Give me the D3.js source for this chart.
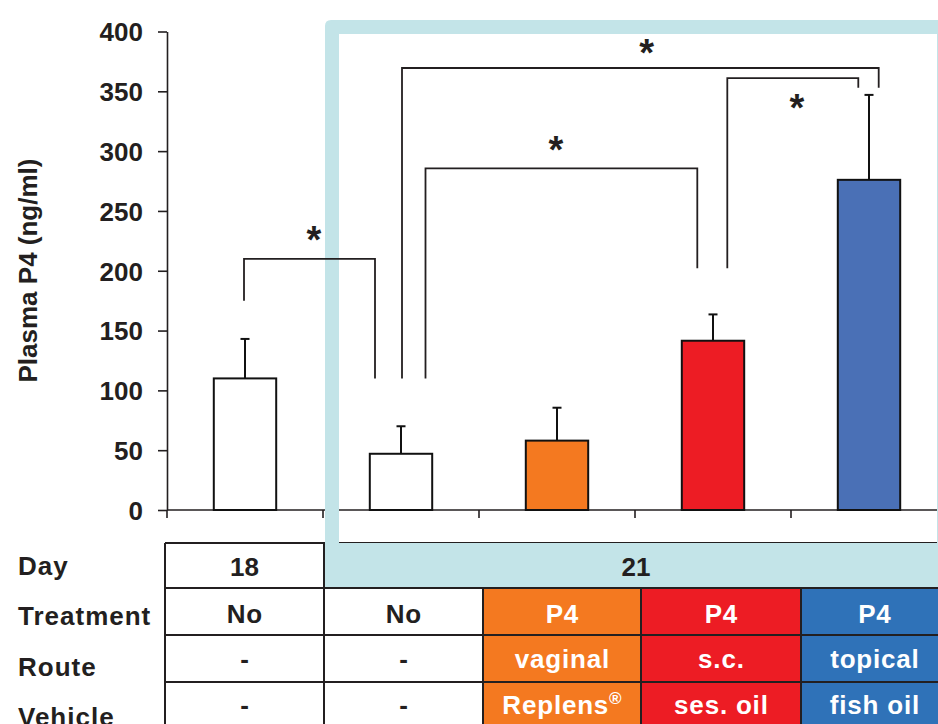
<!DOCTYPE html>
<html><head><meta charset="utf-8">
<script src="https://cdn.jsdelivr.net/npm/d3@7"></script>
<style>
html,body{margin:0;padding:0;background:#fff;}
svg{display:block;font-family:"Liberation Sans",Arial,Helvetica,sans-serif;}
</style></head>
<body>
<svg id="chart" width="938" height="724"></svg>
<script>
// ---------- data ----------
const groups     = ["g1","g2","g3","g4","g5"];
const days       = ["18","21","21","21","21"];
const treatments = ["No","No","P4","P4","P4"];
const routes     = ["-","-","vaginal","s.c.","topical"];
const vehicles   = ["-","-","Replens","ses. oil","fish oil"];
const means      = [110, 47, 58, 141.5, 276];
const errors     = [33, 23, 27.5, 22, 71];
const yTicks     = [0,50,100,150,200,250,300,350,400];
const rowLabels  = ["Day","Treatment","Route","Vehicle"];
const yLabel     = "Plasma P4 (ng/ml)";
// significance brackets: groups compared, bracket height and leg end values (ng/ml)
const brackets = [
  {from:0, to:1, top:210,   left:175, right:110},
  {from:1, to:3, top:285.5, left:110, right:202},
  {from:1, to:4, top:369.5, left:110, right:353},
  {from:3, to:4, top:361,   left:202, right:353}
];

// ---------- styles / layout ----------
const barFill   = ["#ffffff","#ffffff","#f47920","#ed1c24","#4a70b6"];
const cellFill  = [null,null,"#f47920","#ed1c24","#2f72b8"];
const cellText  = ["#231f20","#231f20","#ffffff","#ffffff","#ffffff"];
const ink = "#231f20";
const frameColor = "#c3e4e8";
const legDx  = [[-1,-26],[24.5,-15.7],[1,9.7],[14.3,-10.7]];
const starDx = [4.5,-5.4,6.2,4.2];
const starDy = [-27,-26.4,-22.5,22.3];

const svg = d3.select("#chart");
const x = d3.scaleBand().domain(groups).range([167,947]).paddingInner(0.6).paddingOuter(0.3);
const y = d3.scaleLinear().domain([0,400]).range([510,31.5]);
const cx = i => x(groups[i]) + x.bandwidth()/2;

// table geometry
const colEdges = [165,324,483,641,801,948];
const rowEdges = [543,588,635,682,729];
const labelBase = [575,624.5,675.5,726];
const cellBase  = [575.5,622.7,668.3,714.3];

// ---------- table fills ----------
const tableRows = [treatments, routes, vehicles];
tableRows.forEach((row,r)=>{
  const cells = row.map((v,i)=>({v,i})).filter(d=>cellFill[d.i]);
  svg.append("g").selectAll("rect").data(cells).join("rect")
    .attr("x",d=>colEdges[d.i]).attr("y",rowEdges[r+1])
    .attr("width",d=>colEdges[d.i+1]-colEdges[d.i]).attr("height",rowEdges[r+2]-rowEdges[r+1])
    .attr("fill",d=>cellFill[d.i]);
});

// ---------- table grid ----------
const grid = svg.append("g").attr("stroke",ink).attr("stroke-width",2).attr("fill","none");
rowEdges.forEach(ry=>grid.append("line").attr("x1",colEdges[0]).attr("x2",colEdges[5]).attr("y1",ry).attr("y2",ry));
colEdges.slice(0,5).forEach((cxe,i)=>{
  grid.append("line").attr("x1",cxe).attr("x2",cxe)
    .attr("y1", i<=1 ? rowEdges[0] : rowEdges[1]).attr("y2",rowEdges[4]);
});

// ---------- axes ----------
const yAxis = d3.axisLeft(y).tickValues(yTicks).tickSize(9).tickSizeOuter(0).tickPadding(15);
const ya = svg.append("g").attr("transform","translate(167,0)").call(yAxis);
ya.select(".domain").attr("stroke",ink).attr("stroke-width",1.6);
ya.selectAll(".tick line").attr("stroke",ink).attr("stroke-width",1.6);
ya.selectAll(".tick text").attr("fill",ink).attr("font-size",26).attr("font-weight","bold")
  .attr("font-family","'Liberation Sans',Arial,sans-serif").attr("dy","0.36em");

const xa = svg.append("g").attr("stroke",ink).attr("stroke-width",1.6);
xa.append("line").attr("x1",167).attr("x2",937).attr("y1",y(0)).attr("y2",y(0));
const gap = (x.step()-x.bandwidth())/2;
xa.selectAll("line.tk").data(groups).join("line").attr("class","tk")
  .attr("x1",d=>x(d)-gap).attr("x2",d=>x(d)-gap).attr("y1",y(0)).attr("y2",y(0)+8);

// ---------- light-blue frame (Day 21) ----------
const fx0=325, fy0=20, fx1=962, fy1=588, ix0=339, iy0=34, ix1=937, iy1=543, r=6;
const framePath = `M${fx0},${fy0+r} Q${fx0},${fy0} ${fx0+r},${fy0} L${fx1},${fy0} L${fx1},${fy1} L${fx0},${fy1} Z
 M${ix0},${iy0} L${ix0},${iy1} L${ix1},${iy1} L${ix1},${iy0} Z`;
svg.append("path").attr("d",framePath).attr("fill",frameColor).attr("fill-rule","evenodd");
svg.append("line").attr("x1",324).attr("x2",948).attr("y1",rowEdges[1]).attr("y2",rowEdges[1])
  .attr("stroke",ink).attr("stroke-width",2);

// ---------- bars ----------
svg.append("g").selectAll("rect").data(means).join("rect")
  .attr("x",(d,i)=>x(groups[i])).attr("width",x.bandwidth())
  .attr("y",d=>y(d)).attr("height",d=>y(0)-y(d))
  .attr("fill",(d,i)=>barFill[i]).attr("stroke","#111").attr("stroke-width",2);

// error bars (upper)
const eb = svg.append("g").attr("stroke","#111").attr("stroke-width",2);
means.forEach((m,i)=>{
  eb.append("line").attr("x1",cx(i)).attr("x2",cx(i)).attr("y1",y(m)).attr("y2",y(m+errors[i]));
  eb.append("line").attr("x1",cx(i)-4.5).attr("x2",cx(i)+4.5).attr("y1",y(m+errors[i])).attr("y2",y(m+errors[i]));
});

// ---------- brackets ----------
const bg = svg.append("g");
brackets.forEach((b,k)=>{
  const xl = cx(b.from)+legDx[k][0], xr = cx(b.to)+legDx[k][1];
  bg.append("path")
    .attr("d",`M${xl},${y(b.left)} L${xl},${y(b.top)} L${xr},${y(b.top)} L${xr},${y(b.right)}`)
    .attr("fill","none").attr("stroke",ink).attr("stroke-width",1.8);
  bg.append("text").attr("x",(xl+xr)/2+starDx[k]).attr("y",y(b.top)+starDy[k]+21)
    .attr("text-anchor","middle").attr("font-size",38).attr("font-weight","bold").attr("fill",ink).text("*");
});

// ---------- y label ----------
svg.append("text").attr("transform","translate(37,270.5) rotate(-90)")
  .attr("text-anchor","middle").attr("font-size",26).attr("font-weight","bold").attr("fill",ink).text(yLabel);

// ---------- table texts ----------
const tt = svg.append("g").attr("font-size",26).attr("font-weight","bold").attr("text-anchor","middle");
rowLabels.forEach((l,i)=>{
  tt.append("text").attr("x",18).attr("y",labelBase[i]).attr("text-anchor","start")
    .attr("letter-spacing",1).attr("fill",ink).text(l);
});
// Day row (21 spans columns 2-5)
tt.append("text").attr("x",(colEdges[0]+colEdges[1])/2).attr("y",cellBase[0]).attr("fill",ink).text(days[0]);
tt.append("text").attr("x",(colEdges[1]+colEdges[5])/2).attr("y",cellBase[0]).attr("fill",ink).text(days[1]);
tableRows.forEach((row,r)=>{
  row.forEach((v,i)=>{
    const t = tt.append("text").attr("x",(colEdges[i]+colEdges[i+1])/2+0.4).attr("y",cellBase[r+1])
      .attr("fill",cellText[i]).attr("letter-spacing",0.8).text(v);
    if(v==="Replens"){
      t.append("tspan").attr("font-size",17).attr("dy",-10).text("®");
    }
  });
});
</script>
</body></html>
